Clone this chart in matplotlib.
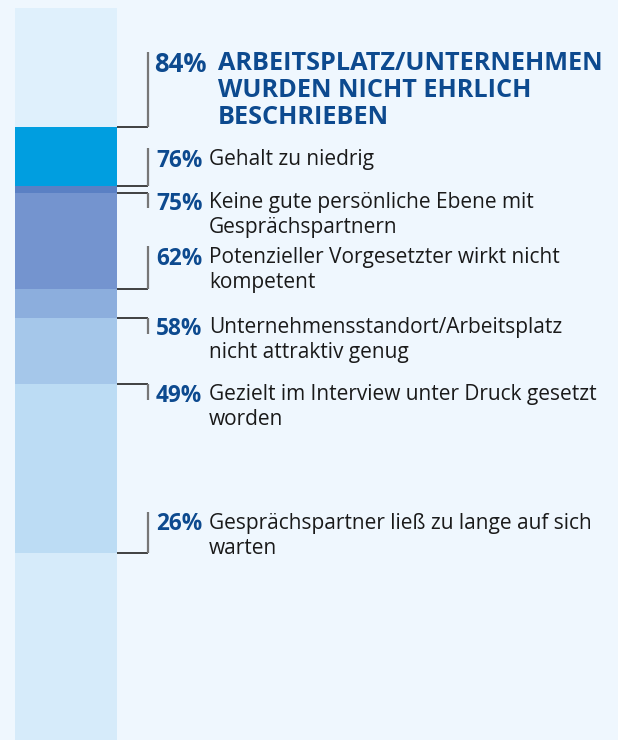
import matplotlib.pyplot as plt

plt.rcParams['font.family'] = ['Open Sans', 'DejaVu Sans']

# data
values = [84, 76, 75, 62, 58, 49, 26]
labels = [
    "ARBEITSPLATZ/UNTERNEHMEN\nWURDEN NICHT EHRLICH\nBESCHRIEBEN",
    "Gehalt zu niedrig",
    "Keine gute persönliche Ebene mit\nGesprächspartnern",
    "Potenzieller Vorgesetzter wirkt nicht\nkompetent",
    "Unternehmensstandort/Arbeitsplatz\nnicht attraktiv genug",
    "Gezielt im Interview unter Druck gesetzt\nworden",
    "Gesprächspartner ließ zu lange auf sich\nwarten",
]
seg_colors = ["#d6ebfa", "#bcdcf4", "#a5c7ea", "#8caedd", "#7494cf",
              "#5a80c4", "#009ee0", "#dff0fc"]

# layout (pixels from top)
label_py = [62, 158, 201, 256, 326, 393, 522]
line_end_py = [52, 148, 208, 246, 334, 400, 512]

W, H = 618, 740
scale = 7.345  # px per percent
zero_py = 744  # pixel row of 0%
def py2d(py):
    return (zero_py - py) / scale

fig = plt.figure(figsize=(W / 100, H / 100), dpi=100)
fig.patch.set_facecolor("#eff7fe")
ax = fig.add_axes([0, 0, 1, 1])
ax.set_facecolor("#eff7fe")
ax.set_xlim(0, W)
ax.set_ylim(py2d(H), py2d(0))
ax.axis("off")

bounds = [0] + sorted(values) + [100.2]
for i in range(len(bounds) - 1):
    ax.bar(66, bounds[i + 1] - bounds[i], bottom=bounds[i], width=102,
           color=seg_colors[i], linewidth=0)

for i, v in enumerate(values):
    ax.plot([117, 148], [v, v], color="#222222", lw=1.2, solid_capstyle="butt")
    ax.plot([148, 148], [v, py2d(line_end_py[i])], color="#777777", lw=1.6,
            solid_capstyle="butt")
    y = py2d(label_py[i] + 2.5)
    if i == 0:
        ax.text(154, y, f"{v}%", color="#0d4a8f", fontsize=18.5,
                fontweight="bold", va="center", ha="left")
        ax.text(218, py2d(label_py[i] - 11), labels[i], color="#0d4a8f",
                fontsize=18.2, fontweight="bold", va="top", ha="left",
                linespacing=1.1)
    else:
        ax.text(156, y, f"{v}%", color="#0d4a8f", fontsize=16.3,
                fontweight="bold", va="center", ha="left")
        ax.text(209, py2d(label_py[i] - 9), labels[i], color="#1a1a1a",
                fontsize=15, va="top", ha="left", linespacing=1.22)

fig.savefig("out.png", dpi=100, facecolor=fig.get_facecolor())
